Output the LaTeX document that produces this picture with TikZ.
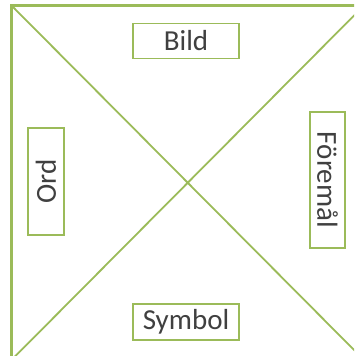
\documentclass[tikz,border=0pt]{standalone}
\usepackage{fontspec}
\setmainfont{Carlito}
\usetikzlibrary{positioning}
\definecolor{frame}{HTML}{9BBB59}
\definecolor{label}{HTML}{404040}

\begin{document}
\begin{tikzpicture}[x=1pt, y=-1pt,
    every node/.style={font=\fontsize{29}{34}\selectfont, text=label},
    lbl/.style={rectangle, draw=frame, line width=1.6pt, fill=white,
      inner sep=0pt, minimum width=106pt, minimum height=35pt},
    edge/.style={draw=frame, line width=2.8pt},
    diag/.style={draw=frame, line width=1.8pt}]

  \clip (0,0) rectangle (354,356);

  % corners of the square
  \coordinate (tl) at (11.5,5.5);
  \coordinate (tr) at (364,5.5);
  \coordinate (bl) at (11.5,360);
  \coordinate (br) at (364,360);

  \draw[edge] (tl) rectangle (br);
  \draw[diag] (tl) -- (br);
  \draw[diag] (bl) -- (tr);

  \node[lbl] (Bild) at (186,41) {Bild};
  \node[lbl, minimum height=36pt] (Symbol) at (186,322) {Symbol};
  \node[lbl, rotate=90, minimum width=107pt, minimum height=36pt]
    (Ord) at (46,181.5) {Ord};
  \node[lbl, rotate=-90, minimum width=136pt, minimum height=35pt]
    (Foremal) at (327.5,180) {Föremål};
\end{tikzpicture}
\end{document}
